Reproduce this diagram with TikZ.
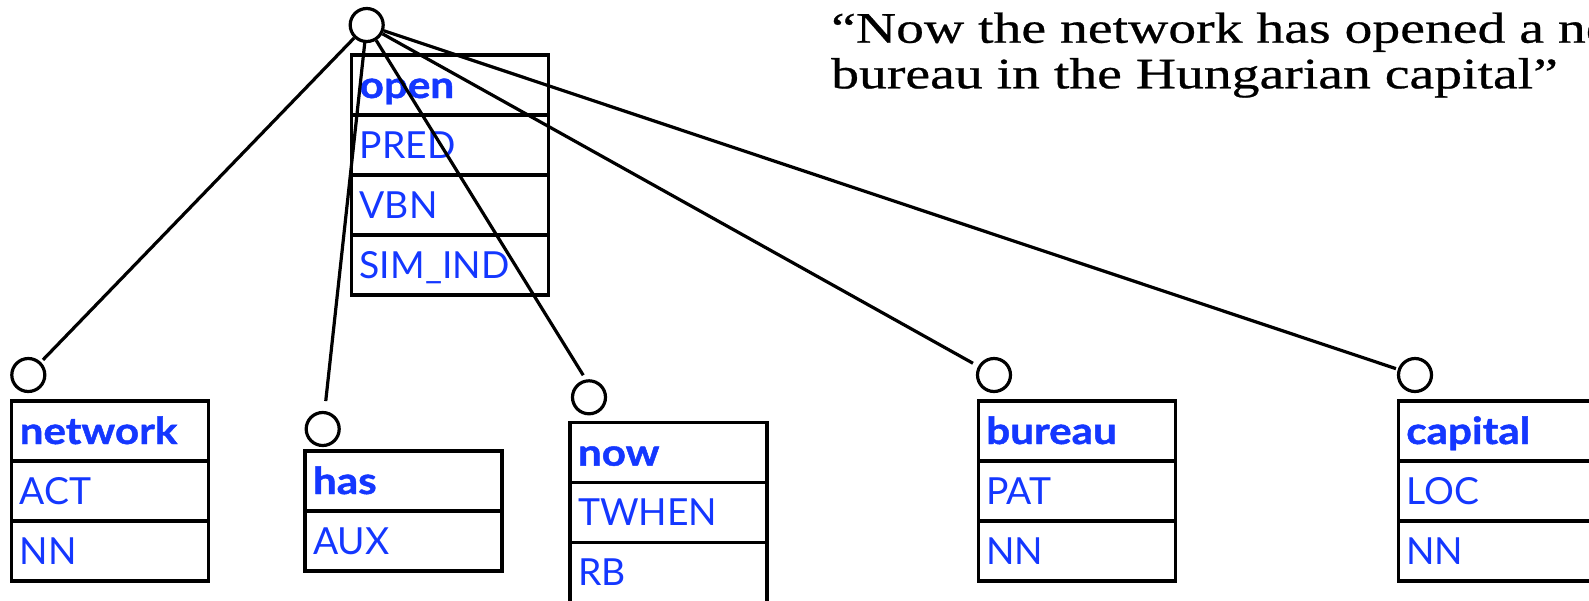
\documentclass[tikz,border=0pt]{standalone}
\usepackage{fontspec}
\setmainfont{Liberation Serif}
\newfontfamily\sentfont[FakeStretch=1.28,FakeBold=0.6]{Liberation Serif}
\newfontfamily\recfont[BoldFeatures={FakeStretch=1.13,FakeBold=1.2}]{Lato}
\newcommand\recHead{\recfont\bfseries\fontsize{37.3}{40}\selectfont}
\newcommand\recTag{\recfont\fontsize{37.3}{40}\selectfont}
\definecolor{tagblue}{RGB}{20,55,255}

\tikzset{
  wire/.style={line width=3.2pt},
  slot/.style={circle, draw, line width=3.2pt, minimum size=33pt, inner sep=0pt},
  cell/.style={draw, line width=3.2pt, anchor=north west, outer sep=0pt,
    text width=181pt, inner xsep=8pt, inner ysep=0pt,
    text height=43pt, text depth=17pt,
    align=left, text=tagblue, font=\recTag},
  headcell/.style={cell, font=\recHead},
  sentence/.style={anchor=base west, inner sep=0pt,
    font=\sentfont\fontsize{43.5}{46}\selectfont}
}

\begin{document}
\begin{tikzpicture}[x=1pt, y=-1pt]
\useasboundingbox (0,0) rectangle (1589,600);
\clip (0,0) rectangle (1589,600);

% the sentence
\node[sentence] (sent1) at (831,42.7) {“Now the network has opened a new};
\node[sentence] (sent2) at (831,88.3) {bureau in the Hungarian capital”};

% root record
\node[headcell] (open1) at (351.7,55) {open};
\node[cell] (open2) at (open1.south west) {PRED};
\node[cell] (open3) at (open2.south west) {VBN};
\node[cell] (open4) at (open3.south west) {SIM\_IND};

% dependents
\node[headcell] (net1) at (11.7,401) {network};
\node[cell] (net2) at (net1.south west) {ACT};
\node[cell] (net3) at (net2.south west) {NN};

\node[headcell] (has1) at (305,451) {has};
\node[cell] (has2) at (has1.south west) {AUX};

\node[headcell] (now1) at (570,422.7) {now};
\node[cell] (now2) at (now1.south west) {TWHEN};
\node[cell] (now3) at (now2.south west) {RB};

\node[headcell] (bur1) at (978.3,401) {bureau};
\node[cell] (bur2) at (bur1.south west) {PAT};
\node[cell] (bur3) at (bur2.south west) {NN};

\node[headcell] (cap1) at (1398.3,401) {capital};
\node[cell] (cap2) at (cap1.south west) {LOC};
\node[cell] (cap3) at (cap2.south west) {NN};

% tree nodes
\node[slot] (root) at (366.7,25) {};
\node[slot] (netc) at (28.3,375) {};
\node[slot] (hasc) at (322.7,429) {};
\node[slot] (nowc) at (589,397.3) {};
\node[slot] (burc) at (994,375) {};
\node[slot] (capc) at (1415,375) {};

% dependency edges
\draw[wire, shorten >=3pt] (root) -- (netc);
\draw[wire, shorten >=10pt] (root) -- (hasc);
\draw[wire, shorten >=5pt] (root) -- (nowc.100);
\draw[wire, shorten >=6pt] (root) -- (burc);
\draw[wire, shorten >=2pt] (root) -- (capc);
\end{tikzpicture}
\end{document}
